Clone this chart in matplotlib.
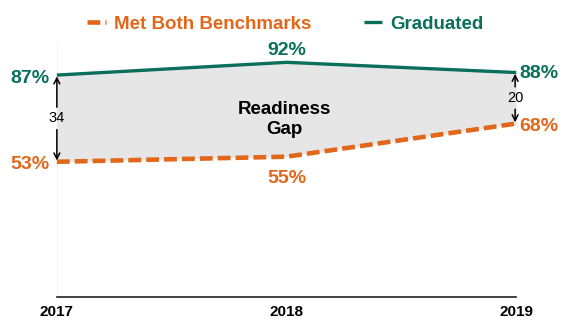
import matplotlib.pyplot as plt

plt.rcParams['font.family'] = ['Liberation Sans', 'DejaVu Sans']

years = [2017, 2018, 2019]
graduated = [87, 92, 88]
met_both = [53, 55, 68]

ORANGE = '#E2671B'
GREEN = '#0B6F5E'
GAP_FILL = '#E7E6E6'

fig = plt.figure(figsize=(5.63, 3.2), dpi=100)
ax = fig.add_axes([0.101, 0.072, 0.816, 0.797])

ax.fill_between(years, met_both, graduated, color=GAP_FILL, lw=0, zorder=1)
for yr in (years[0], years[-1]):
    ax.axvline(yr, color='#F2F2F2', lw=0.8, zorder=0)

ax.plot(years, met_both, color=ORANGE, lw=3.3, ls=(0, (2.8, 1.1)),
        dash_capstyle='butt', clip_on=False, zorder=3, label='Met Both Benchmarks')
ax.plot(years, graduated, color=GREEN, lw=2.4, solid_capstyle='butt',
        clip_on=False, zorder=3, label='Graduated')

# value labels
lab = dict(fontsize=14, fontweight='bold', va='center')
ax.text(years[0] - 0.03, graduated[0] - 1.5, f'{graduated[0]}%', color=GREEN, ha='right', **lab)
ax.text(years[0] - 0.03, met_both[0] - 1, f'{met_both[0]}%', color=ORANGE, ha='right', **lab)
ax.text(years[1], graduated[1] + 4.5, f'{graduated[1]}%', color=GREEN, ha='center', **lab)
ax.text(years[1], met_both[1] - 8.5, f'{met_both[1]}%', color=ORANGE, ha='center', **lab)
ax.text(years[2] + 0.012, graduated[2] - 0.5, f'{graduated[2]}%', color=GREEN, ha='left', **lab)
ax.text(years[2] + 0.012, met_both[2] - 1, f'{met_both[2]}%', color=ORANGE, ha='left', **lab)

# gap arrows at the first and last year, broken around the difference label
for yr, dx in ((years[0], 0.0), (years[2], -0.005)):
    i = years.index(yr)
    lo, hi = met_both[i], graduated[i]
    mid = (lo + hi) / 2
    for end, col in ((hi - 0.5, 'black'), (lo + 0.5, 'none')):
        ax.annotate(str(hi - lo), xy=(yr + dx, end), xytext=(yr + dx, mid),
                    fontsize=10.5, ha='center', va='center', color=col, zorder=5,
                    arrowprops=dict(arrowstyle='->', color='black', lw=1.1,
                                    shrinkA=1, shrinkB=0))

ax.text(2017.99, 69.5, 'Readiness\nGap', fontsize=13.5, fontweight='bold',
        ha='center', va='center', linespacing=1.25, zorder=4)

ax.set_xlim(years[0], years[-1])
ax.set_ylim(0, 100)
ax.set_xticks(years)
ax.set_xticklabels([str(y) for y in years], fontsize=11, fontweight='bold')
ax.tick_params(axis='x', length=0, pad=6)
ax.set_yticks([])
for side in ('left', 'right', 'top'):
    ax.spines[side].set_visible(False)
ax.spines['bottom'].set_linewidth(1.2)
ax.spines['bottom'].set_color('#222222')

leg = ax.legend(loc='center', bbox_to_anchor=(0.497, 1.07), ncol=2, frameon=False,
                fontsize=13.5, handlelength=1.0, handletextpad=0.4, columnspacing=2.8)
for txt, col in zip(leg.get_texts(), (ORANGE, GREEN)):
    txt.set_color(col)
    txt.set_fontweight('bold')

fig.savefig('out.png', dpi=100)
